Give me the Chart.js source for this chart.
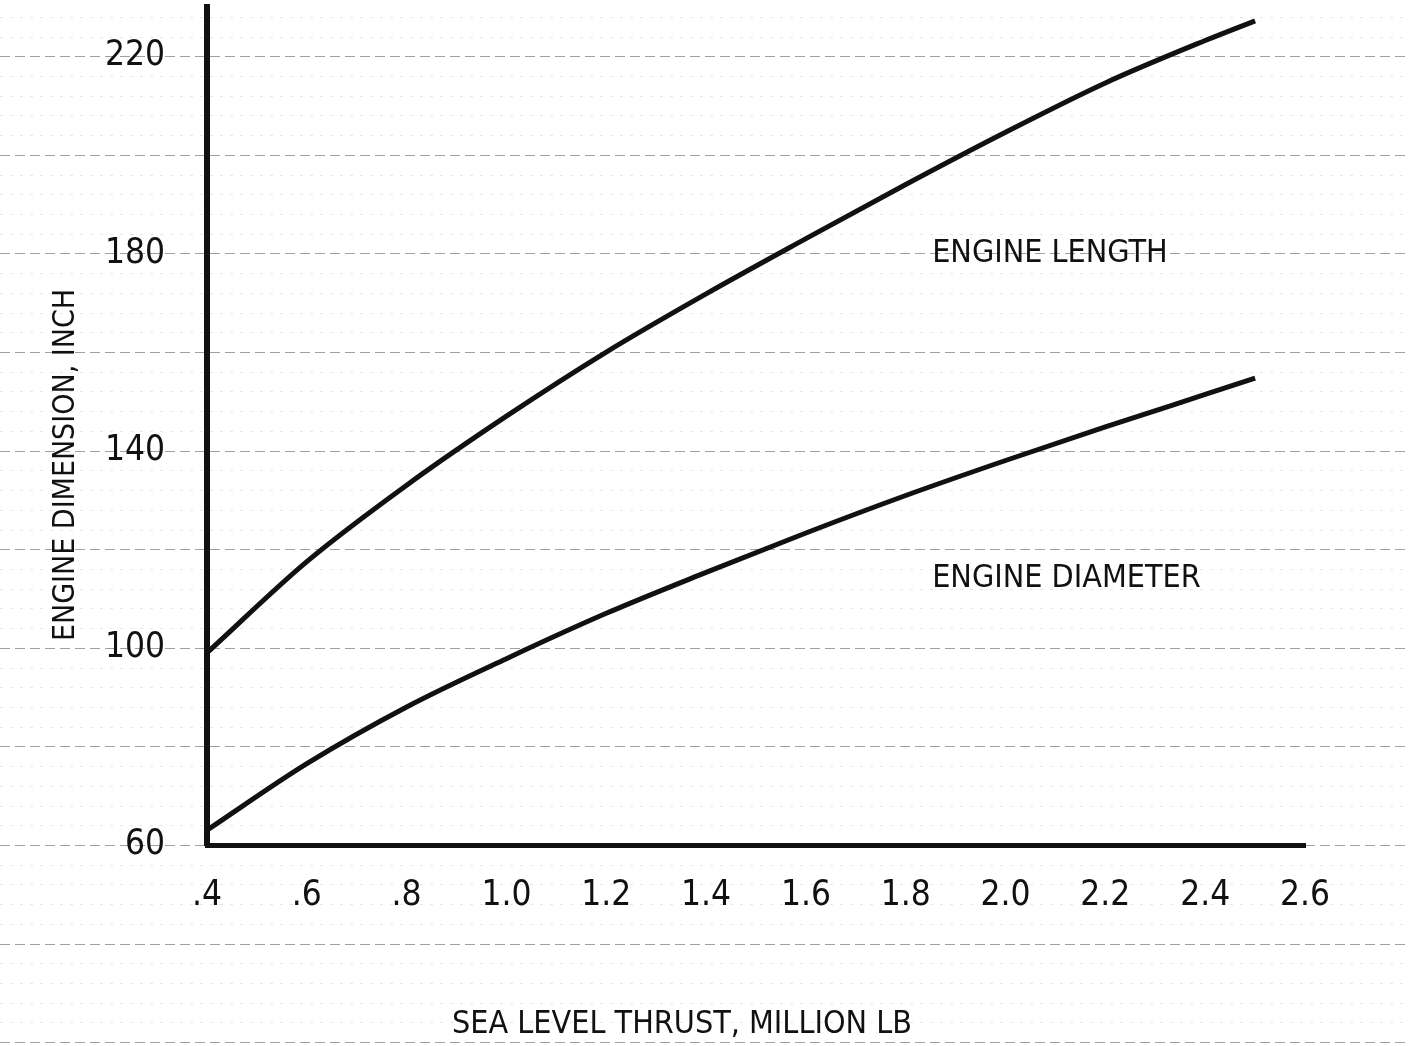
<!DOCTYPE html>
<html>
<head>
<meta charset="utf-8">
<script src="https://cdn.jsdelivr.net/npm/chart.js@4"></script>
<style>
  html, body { margin: 0; padding: 0; background: #fff; }
  canvas { display: block; }
</style>
</head>
<body>
<canvas id="chart" width="1410" height="1046"></canvas>
<script>
// sea level thrust, million lb
const thrust = [0.4, 0.6, 0.8, 1.0, 1.2, 1.4, 1.6, 1.8, 2.0, 2.2, 2.4, 2.5];
// engine dimensions, inch
const engineLength = [99, 117.5, 133, 147, 160, 171.8, 183, 194, 204.6, 214.6, 223.2, 227.2];
const engineDiameter = [63, 76.5, 88, 97.8, 107, 115.3, 123.3, 130.9, 138, 144.8, 151.4, 154.7];

const xTicks = [0.4, 0.6, 0.8, 1.0, 1.2, 1.4, 1.6, 1.8, 2.0, 2.2, 2.4, 2.6];
const yTicks = [60, 100, 140, 180, 220];
const gridValues = [20, 40, 60, 80, 100, 120, 140, 160, 180, 200, 220];

const labels = [
  { text: 'ENGINE LENGTH', x: 1.853, y: 180 },
  { text: 'ENGINE DIAMETER', x: 1.853, y: 114 }
];

const FONT = "'Liberation Sans Narrow', 'DejaVu Sans Condensed', 'DejaVu Sans Mono', sans-serif";

// faint graph-paper lines behind the plot, across the whole page
const paperPlugin = {
  id: 'paper',
  beforeDraw(chart) {
    const ctx = chart.ctx;
    const y = chart.scales.y;
    ctx.save();
    for (let v = 20; v <= 230; v += 4) {
      const py = Math.round(y.getPixelForValue(v)) + 0.5;
      ctx.strokeStyle = gridValues.includes(v) ? '#a0a0a0' : '#e6e6e6';
      ctx.setLineDash(gridValues.includes(v) ? [10, 5] : [3, 7]);
      ctx.lineWidth = 1;
      ctx.beginPath();
      ctx.moveTo(0, py);
      ctx.lineTo(chart.width, py);
      ctx.stroke();
    }
    ctx.restore();
  },
  afterDraw(chart) {
    const ctx = chart.ctx;
    const x = chart.scales.x;
    const y = chart.scales.y;
    ctx.save();
    ctx.fillStyle = '#111';
    ctx.textBaseline = 'middle';
    ctx.textAlign = 'left';
    ctx.font = '32px ' + FONT;
    labels.forEach(l => {
      ctx.fillText(l.text, x.getPixelForValue(l.x), y.getPixelForValue(l.y));
    });
    // axis titles
    ctx.textAlign = 'center';
    ctx.fillText('SEA LEVEL THRUST, MILLION LB', 682, 1025);
    ctx.translate(66, 465);
    ctx.rotate(-Math.PI / 2);
    ctx.font = '30px ' + FONT;
    ctx.fillText('ENGINE DIMENSION, INCH', 0, 0);
    ctx.restore();
  }
};

new Chart(document.getElementById('chart'), {
  type: 'line',
  data: {
    datasets: [{
      label: 'Engine length',
      data: thrust.map((t, i) => ({ x: t, y: engineLength[i] })),
      borderColor: '#111',
      borderWidth: 5,
      pointRadius: 0,
      cubicInterpolationMode: 'monotone',
      fill: false
    }, {
      label: 'Engine diameter',
      data: thrust.map((t, i) => ({ x: t, y: engineDiameter[i] })),
      borderColor: '#111',
      borderWidth: 5,
      pointRadius: 0,
      cubicInterpolationMode: 'monotone',
      fill: false
    }]
  },
  options: {
    responsive: false,
    animation: false,
    layout: { padding: { top: 7, right: 105, left: 0, bottom: 0 } },
    plugins: {
      legend: { display: false },
      tooltip: { enabled: false }
    },
    scales: {
      x: {
        type: 'linear',
        min: 0.4,
        max: 2.6,
        afterFit: (s) => { s.height = 201; s.paddingLeft = 0; s.paddingRight = 0; },
        afterBuildTicks: (s) => { s.ticks = xTicks.map(v => ({ value: v })); },
        border: { color: '#111', width: 5 },
        grid: { display: false, drawTicks: false },
        ticks: {
          color: '#111',
          padding: 30,
          font: { family: FONT, size: 35 },
          callback: (v) => v < 1 ? v.toFixed(1).replace(/^0/, '') : v.toFixed(1)
        }
      },
      y: {
        min: 60,
        max: 230,
        afterFit: (s) => { s.width = 207; s.paddingTop = 0; s.paddingBottom = 0; },
        afterBuildTicks: (s) => { s.ticks = yTicks.map(v => ({ value: v })); },
        border: { color: '#111', width: 6 },
        grid: { display: false, drawTicks: false },
        ticks: {
          color: '#111',
          padding: 42,
          font: { family: FONT, size: 35 }
        }
      }
    }
  },
  plugins: [paperPlugin]
});
</script>
</body>
</html>
